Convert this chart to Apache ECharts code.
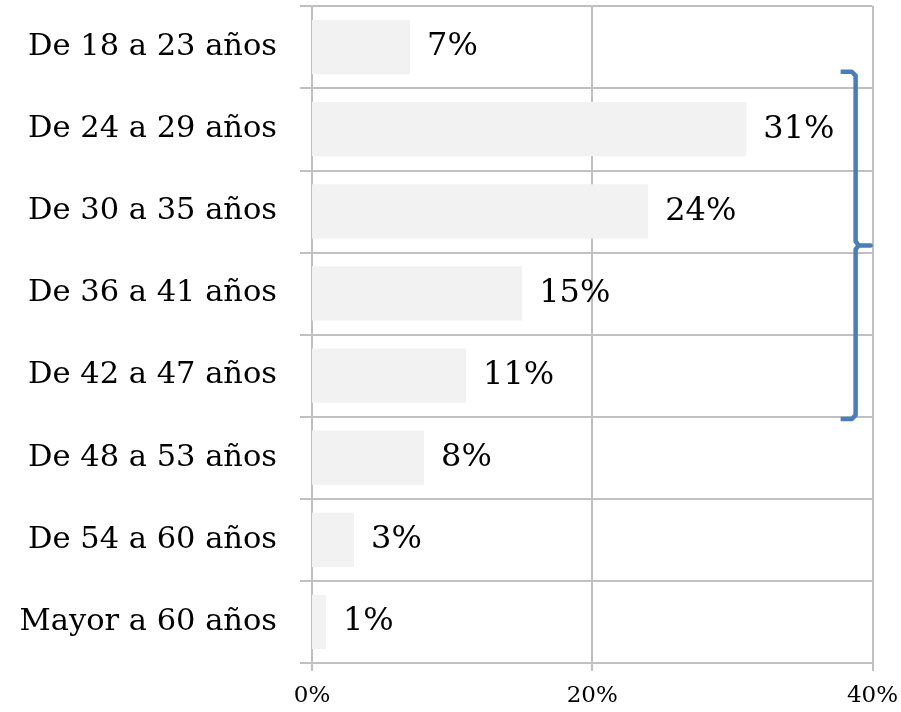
<!DOCTYPE html>
<html>
<head>
<meta charset="utf-8">
<script src="https://cdn.jsdelivr.net/npm/echarts@6/dist/echarts.min.js"></script>
<style>
  html, body { margin: 0; padding: 0; background: #fff; }
  #chart { width: 901px; height: 712px; }
</style>
</head>
<body>
<div id="chart"></div>
<script>
// age groups, top to bottom
var categories = ['De 18 a 23 años', 'De 24 a 29 años', 'De 30 a 35 años', 'De 36 a 41 años',
  'De 42 a 47 años', 'De 48 a 53 años', 'De 54 a 60 años', 'Mayor a 60 años']
var values = [7, 31, 24, 15, 11, 8, 3, 1]
var xTicks = [0, 20, 40]
// bracket groups categories 1..4
var bracketFrom = 1
var bracketTo = 4

var font = 'DejaVu Serif'
var gridColor = '#c0c0c0'

var chart = echarts.init(document.getElementById('chart'))
chart.setOption({
  animation: false,
  grid: { left: 312, right: 28, top: 6, bottom: 49, containLabel: false },
  xAxis: {
    type: 'value',
    min: xTicks[0],
    max: xTicks[xTicks.length - 1],
    interval: xTicks[1] - xTicks[0],
    axisLine: { show: true, lineStyle: { color: gridColor, width: 2 } },
    axisTick: { show: true, length: 8, lineStyle: { color: gridColor, width: 2 } },
    splitLine: { show: true, lineStyle: { color: gridColor, width: 2 } },
    axisLabel: {
      formatter: '{value}%',
      fontFamily: font,
      fontSize: 23,
      color: '#000',
      margin: 22
    }
  },
  yAxis: {
    type: 'category',
    inverse: true,
    data: categories,
    axisLine: { show: true, lineStyle: { color: gridColor, width: 2 } },
    axisTick: { show: true, length: 12, lineStyle: { color: gridColor, width: 2 } },
    splitLine: { show: true, lineStyle: { color: gridColor, width: 2 } },
    axisLabel: {
      fontFamily: font,
      fontSize: 30.5,
      color: '#000',
      margin: 35
    }
  },
  series: [{
    type: 'bar',
    data: values,
    barCategoryGap: '34%',
    itemStyle: { color: '#f2f2f2' },
    label: {
      show: true,
      position: 'right',
      distance: 17,
      formatter: '{c}%',
      fontFamily: font,
      fontSize: 32,
      color: '#000'
    }
  }]
})

// curly bracket on the right, placed from the axis scales
function drawBracket() {
  var topC = chart.convertToPixel({ yAxisIndex: 0 }, bracketFrom)
  var botC = chart.convertToPixel({ yAxisIndex: 0 }, bracketTo)
  var step = chart.convertToPixel({ yAxisIndex: 0 }, 1) - chart.convertToPixel({ yAxisIndex: 0 }, 0)
  var x = chart.convertToPixel({ xAxisIndex: 0 }, 38.8)
  var y1 = topC - step * 0.7
  var y2 = botC + step * 0.53
  var ym = (y1 + y2) / 2
  var hook = 15
  chart.setOption({
    graphic: [{
      type: 'polyline',
      shape: { points: [[x - hook, y1], [x - 4, y1], [x, y1 + 4], [x, ym - 4], [x + 3, ym], [x + hook, ym], [x + 3, ym], [x, ym + 4], [x, y2 - 4], [x - 4, y2], [x - hook, y2]] },
      style: { stroke: '#4a7ebb', lineWidth: 4.5, fill: null, lineJoin: 'round' }
    }]
  })
}
drawBracket()
</script>
</body>
</html>
